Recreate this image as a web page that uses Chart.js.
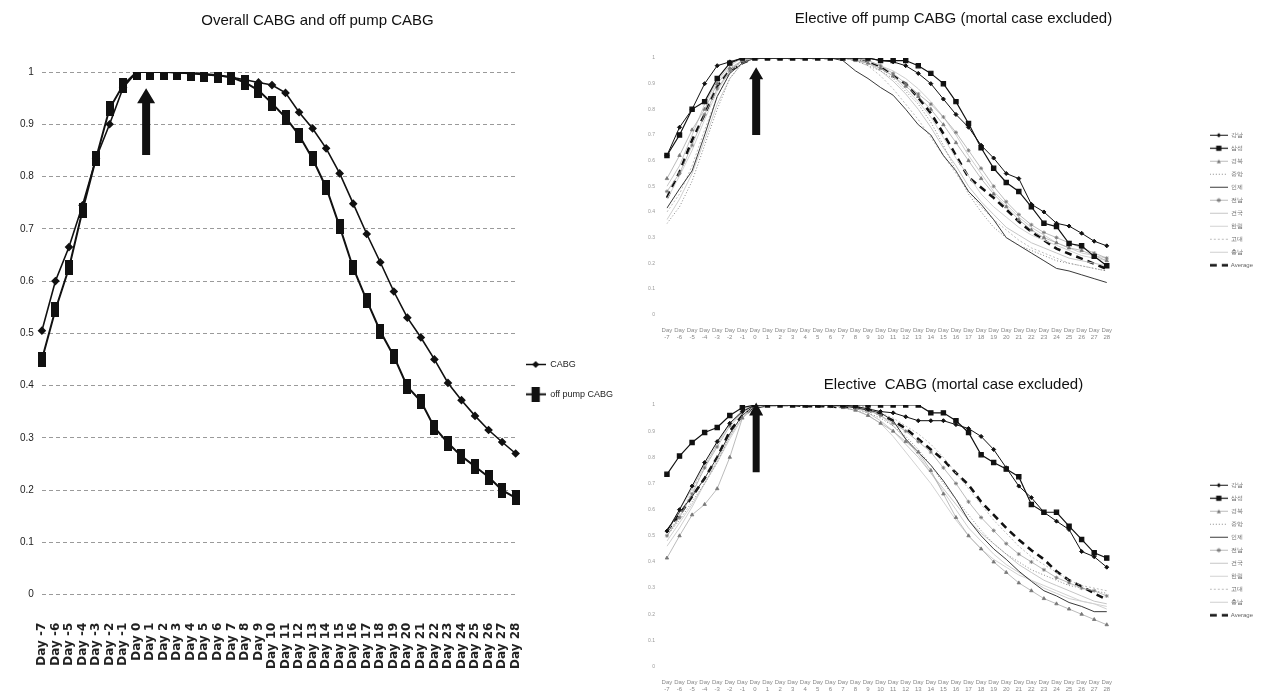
<!DOCTYPE html>
<html lang="en">
<head>
<meta charset="UTF-8">
<title>CABG curves</title>
<script src="https://cdn.jsdelivr.net/npm/chart.js@4.4.0/dist/chart.umd.min.js"></script>
<style>
  body { margin: 0; background: #fff; width: 1273px; height: 697px; overflow: hidden; position: relative; }
  .box { position: absolute; }
</style>
</head>
<body>
<div class="box" style="left:0;top:0;width:640px;height:697px"><canvas id="overall"></canvas></div>
<div class="box" style="left:640px;top:0;width:633px;height:345px"><canvas id="offpump"></canvas></div>
<div class="box" style="left:640px;top:368px;width:633px;height:329px"><canvas id="elective"></canvas></div>
<script>
// x categories
const days = ['Day -7','Day -6','Day -5','Day -4','Day -3','Day -2','Day -1','Day 0','Day 1','Day 2','Day 3','Day 4',
  'Day 5','Day 6','Day 7','Day 8','Day 9','Day 10','Day 11','Day 12','Day 13','Day 14','Day 15','Day 16','Day 17',
  'Day 18','Day 19','Day 20','Day 21','Day 22','Day 23','Day 24','Day 25','Day 26','Day 27','Day 28'];

// left chart
const cabg = [0.505,0.60,0.665,0.745,0.835,0.90,0.97,1,1,1,0.998,0.997,0.995,0.993,0.99,0.985,0.98,0.975,0.96,0.923,
  0.892,0.854,0.806,0.748,0.69,0.636,0.58,0.53,0.492,0.45,0.405,0.372,0.342,0.315,0.292,0.27];
const offPump = [0.45,0.545,0.625,0.735,0.835,0.93,0.975,1,1,1,1,0.998,0.996,0.994,0.99,0.98,0.965,0.94,0.913,0.879,
  0.834,0.779,0.704,0.625,0.563,0.504,0.456,0.398,0.37,0.32,0.29,0.265,0.245,0.225,0.20,0.185];

// hospital names (right charts), last one is the average
const hospitals = ['강남','삼성','경북','중앙','인제','전남','건국','한림','고대','충남','Average'];

// right top: elective off pump CABG
const offA = [0.62,0.73,0.80,0.90,0.97,0.985,1,1,1,1,1,1,1,1,1,1,1,0.99,0.985,0.97,0.94,0.90,0.84,0.78,0.73,0.66,0.61,0.55,0.53,0.43,0.40,0.356,0.345,0.317,0.286,0.268];
const offB = [0.62,0.70,0.80,0.83,0.92,0.98,1,1,1,1,1,1,1,1,1,1,1,0.99,0.99,0.99,0.97,0.94,0.90,0.83,0.745,0.65,0.57,0.515,0.48,0.42,0.356,0.343,0.277,0.268,0.227,0.19];
const offC = [0.53,0.62,0.72,0.80,0.90,0.96,0.99,1,1,1,1,1,1,1,1,0.99,0.98,0.96,0.93,0.89,0.85,0.80,0.74,0.67,0.60,0.53,0.47,0.42,0.37,0.33,0.30,0.28,0.26,0.25,0.23,0.21];
const offD = [0.355,0.42,0.52,0.66,0.80,0.92,0.98,1,1,1,1,1,1,1,1,0.99,0.97,0.95,0.92,0.87,0.82,0.75,0.66,0.56,0.47,0.40,0.34,0.30,0.27,0.25,0.23,0.21,0.20,0.19,0.18,0.17];
const offE = [0.415,0.49,0.56,0.70,0.85,0.94,0.98,1,1,1,1,1,1,1,0.99,0.95,0.92,0.885,0.855,0.80,0.74,0.70,0.62,0.56,0.48,0.43,0.37,0.30,0.27,0.24,0.21,0.18,0.17,0.155,0.14,0.125];
const offF = [0.48,0.55,0.66,0.78,0.88,0.95,0.99,1,1,1,1,1,1,1,1,1,0.99,0.97,0.94,0.90,0.86,0.82,0.77,0.71,0.64,0.57,0.50,0.44,0.39,0.35,0.32,0.30,0.28,0.26,0.24,0.22];
const offG = [0.50,0.58,0.70,0.82,0.91,0.97,1,1,1,1,1,1,1,1,1,0.99,0.98,0.95,0.91,0.86,0.80,0.73,0.65,0.58,0.50,0.44,0.39,0.34,0.31,0.28,0.26,0.24,0.22,0.21,0.20,0.19];
const offH = [0.45,0.54,0.64,0.76,0.87,0.95,0.99,1,1,1,1,1,1,1,1,1,0.98,0.96,0.93,0.88,0.83,0.77,0.69,0.61,0.54,0.47,0.42,0.38,0.34,0.31,0.29,0.27,0.25,0.23,0.22,0.21];
const offI = [0.40,0.47,0.58,0.72,0.85,0.94,0.99,1,1,1,1,1,1,1,1,0.99,0.97,0.93,0.88,0.82,0.76,0.69,0.62,0.55,0.48,0.42,0.37,0.33,0.29,0.26,0.24,0.22,0.20,0.19,0.18,0.17];
const offJ = [0.37,0.45,0.55,0.68,0.82,0.92,0.98,1,1,1,1,1,1,1,1,1,0.99,0.97,0.95,0.92,0.88,0.83,0.77,0.70,0.62,0.55,0.48,0.43,0.38,0.34,0.31,0.28,0.26,0.24,0.23,0.22];
const offAvg = [0.455,0.555,0.68,0.78,0.89,0.95,0.98,1,1,1,1,1,1,1,1,1,0.985,0.965,0.93,0.90,0.845,0.785,0.705,0.62,0.535,0.495,0.455,0.41,0.363,0.323,0.29,0.257,0.237,0.218,0.198,0.178];

// right bottom: elective CABG
const elA = [0.518,0.60,0.69,0.78,0.86,0.93,0.975,1,1,1,1,1,1,1,1,0.995,0.985,0.975,0.97,0.955,0.94,0.94,0.94,0.925,0.91,0.88,0.83,0.76,0.69,0.646,0.59,0.556,0.524,0.44,0.42,0.38];
const elB = [0.735,0.805,0.857,0.895,0.914,0.96,0.99,1,1,1,1,1,1,1,1,1,1,1,1,1,1,0.97,0.97,0.94,0.895,0.81,0.78,0.755,0.726,0.62,0.59,0.59,0.537,0.486,0.435,0.415];
const elC = [0.415,0.50,0.58,0.62,0.68,0.80,0.95,1,1,1,1,1,1,1,0.99,0.98,0.96,0.93,0.90,0.86,0.82,0.75,0.66,0.57,0.50,0.45,0.40,0.36,0.32,0.29,0.26,0.24,0.22,0.20,0.18,0.16];
const elD = [0.50,0.56,0.63,0.70,0.78,0.88,0.96,1,1,1,1,1,1,0.99,0.99,0.98,0.97,0.95,0.92,0.88,0.83,0.77,0.70,0.64,0.58,0.52,0.47,0.43,0.40,0.37,0.35,0.33,0.31,0.30,0.29,0.28];
const elE = [0.52,0.59,0.65,0.72,0.80,0.89,0.96,1,1,1,1,1,1,1,0.995,0.99,0.98,0.97,0.94,0.87,0.82,0.77,0.71,0.64,0.56,0.50,0.45,0.41,0.365,0.326,0.29,0.27,0.245,0.23,0.21,0.21];
const elF = [0.50,0.57,0.66,0.76,0.84,0.92,0.97,1,1,1,1,1,1,1,1,0.99,0.98,0.96,0.93,0.90,0.86,0.82,0.76,0.70,0.63,0.57,0.52,0.47,0.43,0.40,0.37,0.34,0.32,0.30,0.29,0.27];
const elG = [0.51,0.60,0.68,0.77,0.85,0.93,0.98,1,1,1,1,1,1,1,1,0.99,0.97,0.94,0.90,0.85,0.80,0.74,0.68,0.62,0.56,0.51,0.47,0.43,0.39,0.36,0.33,0.31,0.29,0.27,0.25,0.24];
const elH = [0.48,0.55,0.62,0.70,0.78,0.87,0.95,1,1,1,1,1,1,1,0.99,0.98,0.96,0.93,0.88,0.82,0.76,0.70,0.63,0.56,0.50,0.45,0.41,0.38,0.35,0.33,0.31,0.29,0.27,0.25,0.24,0.23];
const elI = [0.50,0.58,0.67,0.76,0.85,0.93,0.98,1,1,1,1,1,1,1,1,1,0.99,0.97,0.95,0.92,0.89,0.85,0.80,0.74,0.68,0.62,0.56,0.51,0.46,0.42,0.39,0.36,0.33,0.31,0.30,0.29];
const elJ = [0.46,0.53,0.61,0.70,0.79,0.88,0.95,0.99,1,1,1,1,1,1,1,0.99,0.98,0.96,0.92,0.87,0.81,0.74,0.67,0.60,0.53,0.48,0.43,0.39,0.36,0.33,0.30,0.28,0.26,0.25,0.24,0.22];
const elAvg = [0.518,0.58,0.65,0.72,0.80,0.90,0.96,0.99,1,1,1,0.995,0.995,0.995,0.99,0.99,0.98,0.965,0.94,0.91,0.87,0.83,0.79,0.74,0.695,0.63,0.58,0.53,0.485,0.445,0.41,0.364,0.33,0.307,0.28,0.256];

const sans = "'Liberation Sans', Arial, sans-serif";
const bold = "'DejaVu Sans', sans-serif";
const tickFmt = v => String(Math.round(v * 10) / 10);

// small canvas used as a marker / legend icon
function drawMark(g, x, y, kind, color, s) {
  g.fillStyle = color; g.strokeStyle = color; g.lineWidth = 1;
  g.beginPath();
  if (kind === 'diamond') { g.moveTo(x, y - s); g.lineTo(x + s, y); g.lineTo(x, y + s); g.lineTo(x - s, y); g.closePath(); g.fill(); }
  else if (kind === 'square') { g.fillRect(x - s, y - s, 2 * s, 2 * s); }
  else if (kind === 'tall') { g.fillRect(x - s * 0.55, y - s, s * 1.1, 2 * s); }
  else if (kind === 'tri') { g.moveTo(x, y - s); g.lineTo(x + s, y + s); g.lineTo(x - s, y + s); g.closePath(); g.fill(); }
  else if (kind === 'star') { g.moveTo(x - s, y); g.lineTo(x + s, y); g.moveTo(x, y - s); g.lineTo(x, y + s); g.moveTo(x - s * .7, y - s * .7); g.lineTo(x + s * .7, y + s * .7); g.moveTo(x + s * .7, y - s * .7); g.lineTo(x - s * .7, y + s * .7); g.stroke(); }
}
function icon(w, h, st) {
  const c = document.createElement('canvas');
  c.width = w; c.height = h;
  const g = c.getContext('2d');
  if (st.lw) {
    g.strokeStyle = st.color; g.lineWidth = st.lw; g.setLineDash(st.dash || []);
    g.beginPath(); g.moveTo(0, h / 2); g.lineTo(w, h / 2); g.stroke(); g.setLineDash([]);
  }
  if (st.mark) drawMark(g, w / 2, h / 2, st.mark, st.mcolor || st.color, st.ms);
  return c;
}
const tallRect = icon(8, 15, { mark: 'tall', color: '#111', ms: 7.5 });

// arrow marking the day of operation
const arrowPlugin = {
  id: 'arrow',
  afterDatasetsDraw(chart, args, o) {
    if (!o || o.at == null) return;
    const { ctx, scales: { x, y } } = chart;
    const cx = x.getPixelForValue(o.at), tip = y.getPixelForValue(o.tip), tail = y.getPixelForValue(o.tail);
    const hw = o.head / 2, sw = o.shaft / 2, neck = tip + o.headLen;
    ctx.save();
    ctx.fillStyle = '#111';
    ctx.beginPath();
    ctx.moveTo(cx, tip); ctx.lineTo(cx + hw, neck); ctx.lineTo(cx + sw, neck); ctx.lineTo(cx + sw, tail);
    ctx.lineTo(cx - sw, tail); ctx.lineTo(cx - sw, neck); ctx.lineTo(cx - hw, neck);
    ctx.closePath(); ctx.fill();
    ctx.restore();
  }
};

function iconLabels(icons, color, asArray) {
  return chart => chart.data.datasets.map((ds, i) => ({
    text: asArray ? [ds.label] : ds.label, pointStyle: icons[i], fontColor: color, hidden: false, datasetIndex: i,
    lineWidth: 0, strokeStyle: 'rgba(0,0,0,0)', fillStyle: 'rgba(0,0,0,0)'
  }));
}
function gapAxis(w) {
  return { type: 'linear', position: 'right', display: true, min: 0, max: 1,
    ticks: { display: false }, grid: { display: false }, border: { display: false },
    afterFit: s => { s.width = w; } };
}

// ---------- left chart ----------
const leftIcons = [
  icon(20, 9, { lw: 1.5, color: '#111', mark: 'diamond', ms: 3.5 }),
  icon(20, 15, { lw: 2, color: '#111', mark: 'tall', ms: 7.5 })
];
new Chart(document.getElementById('overall'), {
  type: 'line',
  data: {
    labels: days,
    datasets: [
      { label: 'CABG', data: cabg, borderColor: '#111', backgroundColor: '#111', borderWidth: 1.6,
        pointStyle: 'rectRot', pointRadius: 3.2, tension: 0 },
      { label: 'off pump CABG', data: offPump, borderColor: '#111', backgroundColor: '#111', borderWidth: 2,
        pointStyle: tallRect, pointRadius: 4, tension: 0 }
    ]
  },
  options: {
    responsive: true, maintainAspectRatio: false, animation: false,
    layout: { padding: { left: 12, top: 6, right: 17, bottom: 8 } },
    plugins: {
      title: { display: true, text: 'Overall CABG and off pump CABG', color: '#111',
        font: { family: sans, size: 15, weight: 'normal' }, padding: { top: 6, bottom: 42 } },
      legend: { position: 'right', align: 'start', fullSize: false,
        title: { display: true, text: ' ', font: { size: 10 }, padding: { top: 266, bottom: 0 } },
        labels: { usePointStyle: true, pointStyleWidth: 20, padding: 10, color: '#222',
          font: { family: sans, size: 9, lineHeight: 2.2 }, generateLabels: iconLabels(leftIcons, '#222', true) } },
      tooltip: { enabled: false },
      arrow: { at: 7.7, tip: 0.969, tail: 0.841, head: 18, headLen: 15, shaft: 8 }
    },
    scales: {
      x: { grid: { display: false }, border: { display: false },
        ticks: { minRotation: 90, maxRotation: 90, autoSkip: false, padding: 20, color: '#222',
          font: { family: bold, size: 12, weight: 'bold' } } },
      y: { min: 0, max: 1, grid: { color: '#9a9a9a', drawTicks: false }, border: { display: false, dash: [4, 3] },
        ticks: { stepSize: 0.1, padding: 8, color: '#222', font: { family: sans, size: 10 }, callback: tickFmt } }
    }
  },
  plugins: [arrowPlugin]
});

// ---------- right charts ----------
const rightStyle = [
  { lw: 1, color: '#111', mark: 'diamond', ms: 2.2, pointStyle: 'rectRot', r: 2 },
  { lw: 1.2, color: '#111', mark: 'square', ms: 2.6, pointStyle: 'rect', r: 3 },
  { lw: 0.8, color: '#aaa', mcolor: '#777', mark: 'tri', ms: 2, pointStyle: 'triangle', r: 2 },
  { lw: 1, color: '#888', dash: [1, 2], r: 0 },
  { lw: 0.9, color: '#222', r: 0 },
  { lw: 0.8, color: '#aaa', mcolor: '#777', mark: 'star', ms: 2.2, pointStyle: 'star', r: 2 },
  { lw: 1, color: '#c6c6c6', r: 0 },
  { lw: 1, color: '#d2d2d2', r: 0 },
  { lw: 1, color: '#bdbdbd', dash: [2, 2], r: 0 },
  { lw: 1, color: '#cfcfcf', r: 0 },
  { lw: 2.6, color: '#111', dash: [7, 5], r: 0 }
];
const rightIcons = rightStyle.map(s => icon(18, 7, s));

function rightChart(id, title, series, arrow, pad, titlePad, legendTop) {
  return new Chart(document.getElementById(id), {
    type: 'line',
    data: {
      labels: days.map(d => d.split(' ')),
      datasets: series.map((vals, i) => {
        const s = rightStyle[i];
        return { label: hospitals[i], data: vals, borderColor: s.color, backgroundColor: s.mcolor || s.color,
          borderWidth: s.lw, borderDash: s.dash || [], pointStyle: s.pointStyle || 'circle',
          pointRadius: s.r, pointBorderColor: s.mcolor || s.color, tension: 0 };
      })
    },
    options: {
      responsive: true, maintainAspectRatio: false, animation: false,
      layout: { padding: pad },
      plugins: {
        title: { display: true, text: title, color: '#111',
          font: { family: sans, size: 15, weight: 'normal' }, padding: titlePad },
        legend: { position: 'right', align: 'start', fullSize: false,
          title: { display: true, text: ' ', font: { size: 6 }, padding: { top: legendTop, bottom: 0 } },
          labels: { usePointStyle: true, pointStyleWidth: 18, padding: 7, color: '#666',
            font: { family: sans, size: 6 }, generateLabels: iconLabels(rightIcons, '#666', false) } },
        tooltip: { enabled: false },
        arrow: arrow
      },
      scales: {
        x: { grid: { display: false }, border: { display: false },
          ticks: { maxRotation: 0, autoSkip: false, color: '#888', padding: 4, font: { family: sans, size: 6 } } },
        y: { min: 0, max: 1, grid: { display: false }, border: { display: false },
          ticks: { stepSize: 0.1, padding: 4, color: '#999', font: { family: sans, size: 5 }, callback: tickFmt } },
        gap: gapAxis(96)
      }
    },
    plugins: [arrowPlugin]
  });
}

rightChart('offpump', 'Elective off pump CABG (mortal case excluded)',
  [offA, offB, offC, offD, offE, offF, offG, offH, offI, offJ, offAvg],
  { at: 7.1, tip: 0.964, tail: 0.70, head: 14, headLen: 12, shaft: 8 },
  { left: 4, top: 4, right: 10, bottom: 0 }, { top: 6, bottom: 30 }, 60);

rightChart('elective', 'Elective  CABG (mortal case excluded)',
  [elA, elB, elC, elD, elE, elF, elG, elH, elI, elJ, elAvg],
  { at: 7.1, tip: 1.01, tail: 0.743, head: 14, headLen: 13, shaft: 7 },
  { left: 4, top: 2, right: 10, bottom: 0 }, { top: 6, bottom: 11 }, 63);
</script>
</body>
</html>
